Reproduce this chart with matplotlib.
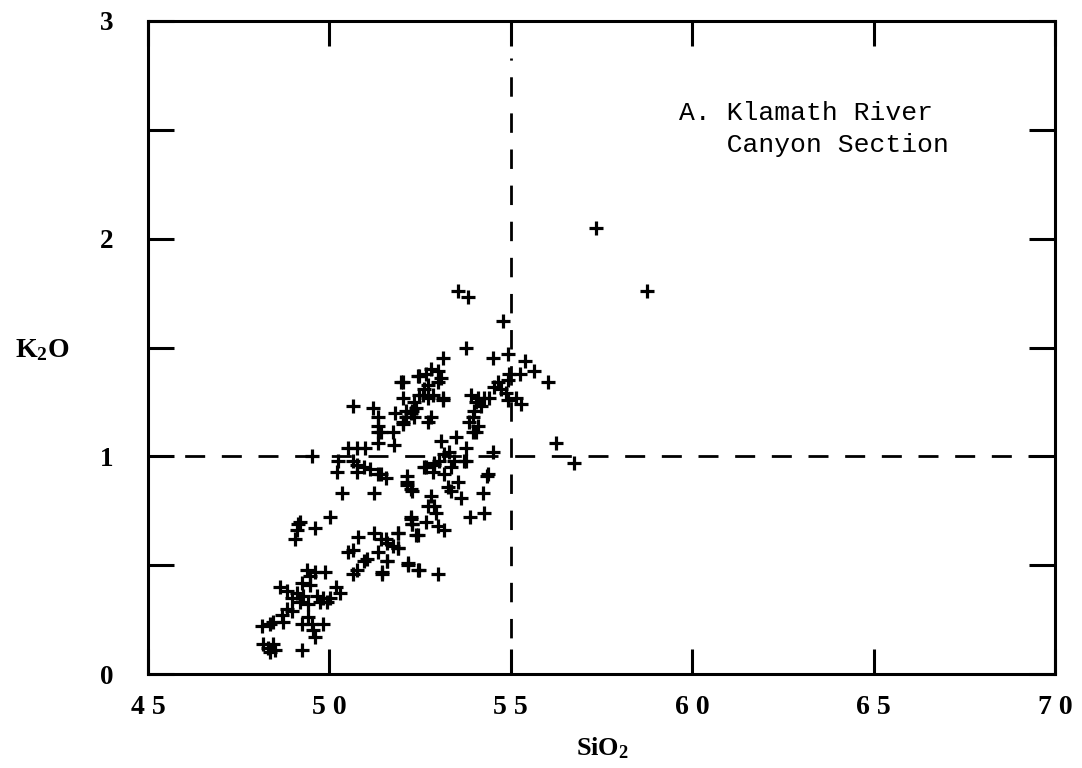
import matplotlib
matplotlib.use('Agg')
import matplotlib.pyplot as plt

plt.rcParams['mathtext.fontset'] = 'custom'
plt.rcParams['mathtext.bf'] = 'Liberation Serif:bold'
plt.rcParams['mathtext.rm'] = 'Liberation Serif:bold'

# SiO2 / K2O analyses (wt %)
sio2 = [57.35, 58.76, 53.54, 53.81, 54.78, 53.76, 54.50, 54.92, 55.39, 55.64,
        55.25, 56.02, 54.94, 54.92, 54.64, 54.53, 54.72, 54.86, 55.14, 55.28,
        54.92, 53.90, 54.10, 54.25, 54.40, 54.03, 54.17, 53.98, 53.95, 53.84,
        54.09, 53.95, 54.03, 53.07, 53.48, 53.76, 53.29, 53.15, 53.01, 52.87,
        53.43, 53.70, 52.65, 52.85, 54.50, 56.24, 56.74, 52.15, 54.36, 53.12,
        52.98, 52.79, 52.65, 52.46, 53.07, 52.98, 52.71, 52.60, 52.57, 52.85,
        53.12, 53.12, 52.71, 52.32, 52.02, 52.02, 52.10, 52.24, 52.38, 52.04,
        52.79, 52.71,
        51.96, 52.43, 52.46, 50.66, 51.19, 51.35, 51.82, 52.29, 52.10, 52.32,
        52.04, 51.33, 51.35, 51.41, 51.74, 51.33, 51.77, 50.52, 50.77, 50.99,
        49.53, 50.25, 50.66, 50.77, 50.94, 51.13, 50.22, 51.41,
        50.77, 51.33, 52.15, 52.24, 50.36, 51.22, 50.03, 49.20, 49.14, 49.12,
        49.61, 49.06, 52.24, 52.29, 52.43, 50.80, 51.22, 51.41, 51.60, 51.88,
        51.88, 50.66, 50.52, 51.35, 51.05, 50.94, 51.60, 50.77, 50.66, 51.46,
        52.18, 52.43, 49.39, 49.61, 49.89, 49.47, 49.25, 48.65, 49.47, 50.17,
        50.30, 48.84, 49.12, 49.28, 48.98, 49.67, 49.83, 50.03, 49.20, 49.42,
        49.75, 49.94, 48.84, 48.98, 48.70, 48.45, 48.73, 49.25, 49.42, 49.53,
        49.83, 48.15, 48.37, 49.56, 49.61, 48.18, 48.31, 48.45, 48.37, 48.51,
        49.25,
        51.55, 52.15, 52.29, 52.60, 52.87, 53.34, 53.76, 53.15, 53.54, 53.26,
        53.34, 53.62, 54.34, 54.23, 52.79, 52.71, 52.87, 52.93, 53.87, 54.25,
        52.24, 52.29, 52.65, 52.98, 53.15, 52.38, 51.88, 51.55, 51.74, 51.88,
        51.60, 52.18, 52.46, 52.98, 51.46]
k2o = [2.05, 1.76, 1.76, 1.73, 1.62, 1.50, 1.45, 1.47, 1.44, 1.39,
       1.38, 1.34, 1.38, 1.35, 1.34, 1.32, 1.31, 1.29, 1.27, 1.24,
       1.26, 1.28, 1.27, 1.27, 1.27, 1.25, 1.23, 1.21, 1.18, 1.16,
       1.14, 1.11, 1.11, 1.07, 1.09, 1.04, 1.02, 1.01, 0.98, 0.97,
       0.98, 0.98, 0.95, 0.93, 1.02, 1.06, 0.97, 0.91, 0.92, 1.45,
       1.39, 1.40, 1.38, 1.37, 1.36, 1.34, 1.33, 1.31, 1.28, 1.28,
       1.27, 1.26, 1.27, 1.25, 1.34, 1.27, 1.21, 1.20, 1.22, 1.16,
       1.18, 1.16,
       1.34, 1.37, 1.28, 1.23, 1.22, 1.18, 1.20, 1.21, 1.18, 1.18,
       1.15, 1.14, 1.11, 1.11, 1.11, 1.06, 1.05, 1.04, 1.04, 1.04,
       1.00, 0.98, 0.98, 0.96, 0.95, 0.94, 0.93, 0.92,
       0.93, 0.92, 0.88, 0.85, 0.83, 0.83, 0.72, 0.70, 0.69, 0.66,
       0.67, 0.62, 0.71, 0.69, 0.64, 0.63, 0.65, 0.62, 0.60, 0.65,
       0.58, 0.57, 0.56, 0.56, 0.53, 0.52, 0.52, 0.48, 0.46, 0.46,
       0.50, 0.48, 0.48, 0.47, 0.47, 0.45, 0.42, 0.40, 0.41, 0.40,
       0.37, 0.38, 0.37, 0.36, 0.35, 0.36, 0.35, 0.35, 0.33, 0.32,
       0.33, 0.33, 0.30, 0.29, 0.27, 0.24, 0.24, 0.23, 0.26, 0.23,
       0.23, 0.22, 0.23, 0.20, 0.17, 0.14, 0.12, 0.14, 0.10, 0.11,
       0.11,
       0.90, 0.87, 0.84, 0.95, 0.96, 0.95, 0.98, 0.92, 0.88, 0.86,
       0.84, 0.81, 0.91, 0.83, 0.82, 0.77, 0.77, 0.74, 0.72, 0.74,
       0.72, 0.69, 0.70, 0.68, 0.66, 0.64, 0.65, 0.62, 0.59, 0.58,
       0.52, 0.51, 0.48, 0.46, 0.47]

x_ticks = [45, 50, 55, 60, 65, 70]
x_labels = ['4 5', '5 0', '5 5', '6 0', '6 5', '7 0']
y_ticks = [0, 0.5, 1, 1.5, 2, 2.5, 3]
y_labels = ['0', '', '1', '', '2', '', '3']

fig = plt.figure(figsize=(10.82, 7.68), dpi=100)
ax = fig.add_axes([148 / 1082, 1 - 674 / 768, 907 / 1082, 653 / 768])

ax.plot(sio2, k2o, '+', color='black', markersize=10.5, markeredgewidth=2.3)

# dashed reference lines
ax.axhline(1, color='black', lw=2, dashes=(7.2, 6.0))
ax.plot([55, 55], [0, 2.83], color='black', lw=2, dashes=(7.0, 6.0))

ax.set_xlim(45, 70)
ax.set_ylim(0, 3)
ax.set_xticks(x_ticks)
ax.set_xticklabels(x_labels)
ax.set_yticks(y_ticks)
ax.set_yticklabels(y_labels)

ax.tick_params(axis='x', direction='in', top=True, length=18, width=2.2, pad=15,
               labelsize=20)
ax.tick_params(axis='y', direction='in', right=True, length=19, width=2.2, pad=25,
               labelsize=19.5)
for lab in ax.get_xticklabels() + ax.get_yticklabels():
    lab.set_fontfamily('Liberation Serif')
    lab.set_fontweight('bold')

for sp in ax.spines.values():
    sp.set_linewidth(2.2)

ax.text(0.585, 0.877, 'A. Klamath River\n   Canyon Section', transform=ax.transAxes,
        family='Liberation Mono', fontsize=19, ha='left', va='top', linespacing=1.4)

fig.text(42 / 1082, 1 - 349 / 768, r'$\mathbf{K_2O}$', fontsize=20, ha='center', va='center')
fig.text(603 / 1082, 1 - 748 / 768, r'$\mathbf{SiO_2}$', fontsize=19, ha='center', va='center')

fig.savefig('out.png', dpi=100)
